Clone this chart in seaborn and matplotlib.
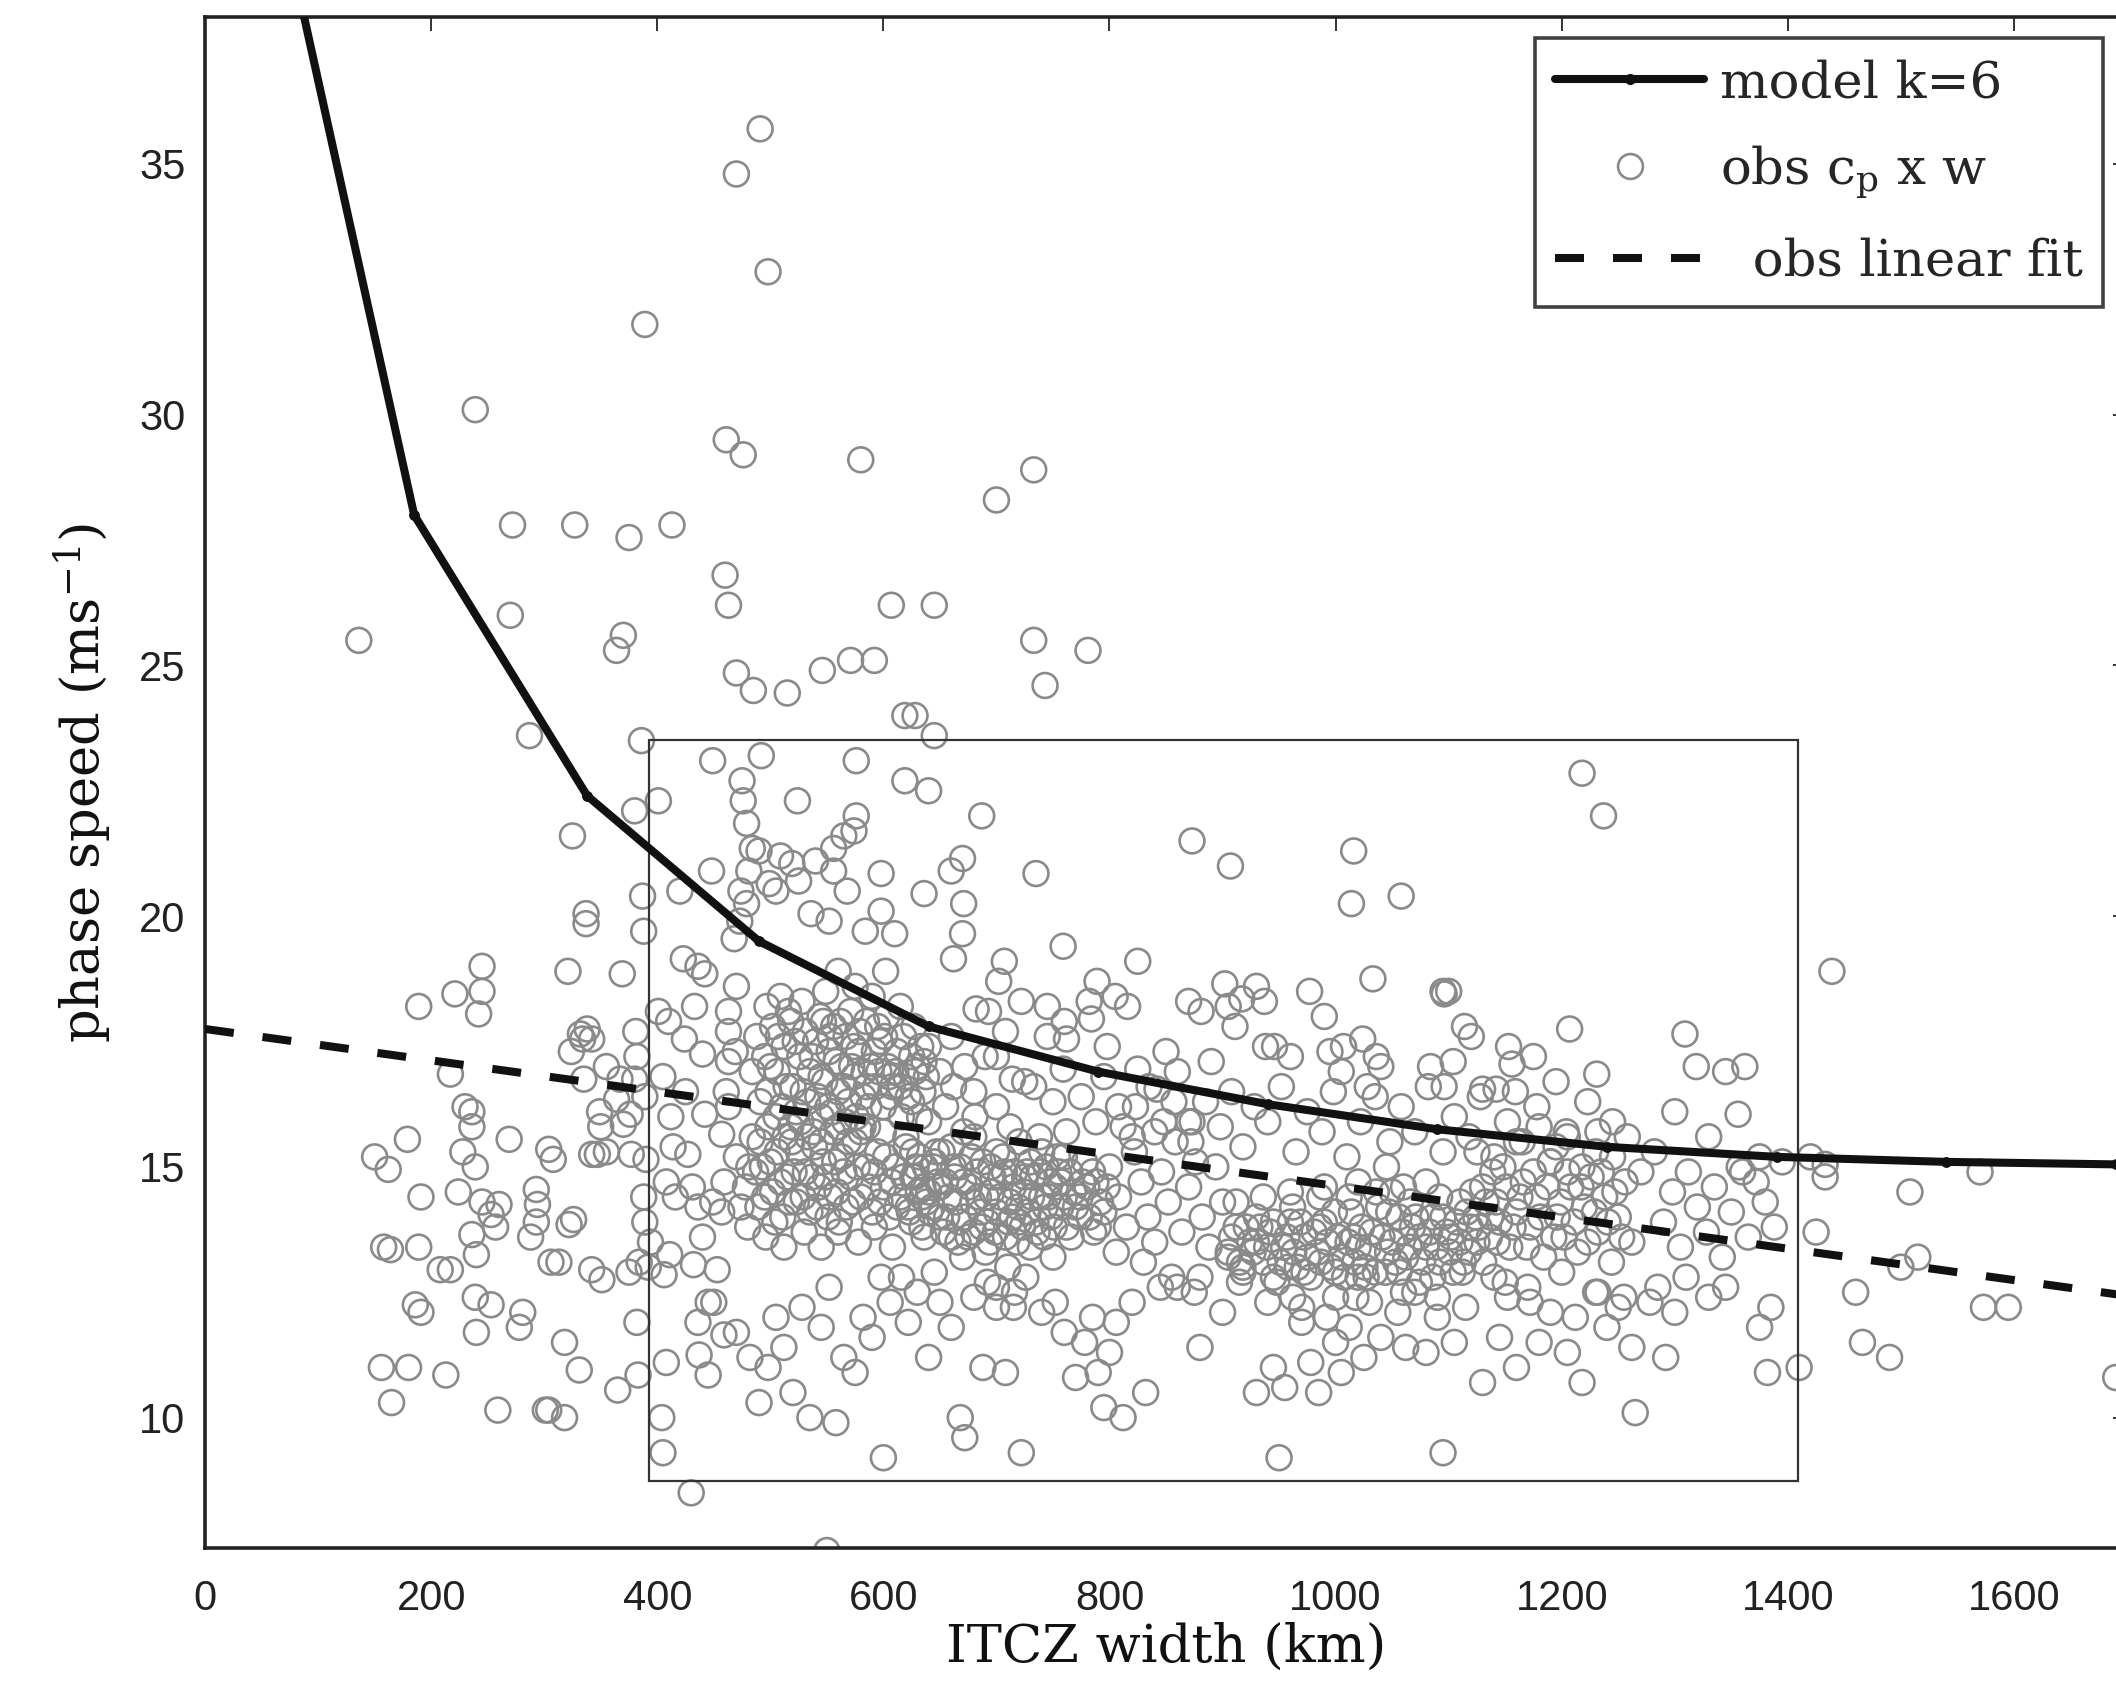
import numpy as np
import pandas as pd
import matplotlib
matplotlib.use("Agg")
import matplotlib.pyplot as plt
from matplotlib.patches import Rectangle
from matplotlib.lines import Line2D
import seaborn as sns

# model curve (k=6)
model_width = [35, 185, 338, 490, 640, 790, 940, 1090, 1240, 1390, 1540, 1690]
model_speed = [43.3, 28.0, 22.4, 19.5, 17.8, 16.9, 16.25, 15.75, 15.4, 15.2, 15.1, 15.05]

# linear fit to the observations
fit_width = [0, 1700]
fit_speed = [17.75, 12.43]

# box drawn around the bulk of the data
box_width = [393, 1409]
box_speed = [8.74, 23.52]

# observed phase speed vs ITCZ width, estimated point by point
obs_upper = [
    (491, 35.7), (470, 34.8), (498, 32.85), (389, 31.8), (239, 30.1), (461, 29.5), (476, 29.2),
    (580, 29.1), (733, 28.9), (700, 28.3), (272, 27.8), (327, 27.8), (375, 27.55), (413, 27.8),
    (460, 26.8), (463, 26.2), (607, 26.2), (645, 26.2), (270, 26.0), (136, 25.5), (370, 25.6),
    (364, 25.3), (733, 25.5), (781, 25.3), (571, 25.1), (592, 25.1), (546, 24.9), (470, 24.85),
    (485, 24.5), (515, 24.45), (743, 24.6), (287, 23.6), (386, 23.5), (449, 23.1), (492, 23.2),
    (524, 22.3), (576, 23.1), (619, 24.0), (628, 24.0), (645, 23.6), (401, 22.3), (380, 22.1),
    (325, 21.6), (475, 22.7), (476, 22.3), (640, 22.5), (687, 22.0), (619, 22.7), (576, 22.0),
    (565, 21.6), (574, 21.7), (873, 21.5), (907, 21.0), (1016, 21.3), (1014, 20.25), (1058, 20.4),
    (1218, 22.85), (1237, 22.0), (1439, 18.9),
]

obs_left = [
    (150, 15.2), (162, 14.95), (191, 14.4), (158, 13.4), (164, 13.35), (179, 15.55), (189, 18.2),
    (189, 13.4), (186, 12.25), (191, 12.1), (156, 11.0), (180, 11.0), (165, 10.3), (213, 10.85),
    (208, 12.95), (217, 12.95), (224, 14.5), (221, 18.45), (245, 19.0), (245, 18.5), (242, 18.05),
    (217, 16.85), (230, 16.2), (236, 16.1), (228, 15.3), (236, 15.8), (239, 15.0), (236, 13.65),
    (240, 13.25), (239, 12.4), (240, 11.7), (253, 12.25), (245, 14.3), (253, 14.05), (260, 14.25),
    (257, 13.8), (259, 10.15), (269, 15.55), (278, 11.8), (281, 12.1), (288, 13.6), (293, 14.55),
    (294, 14.25), (293, 13.9), (304, 15.35), (308, 15.15), (301, 10.15), (304, 10.15), (318, 10.0),
    (306, 13.1), (313, 13.1), (318, 11.5), (322, 13.85), (326, 13.95), (331, 10.95), (321, 18.9),
    (324, 17.3), (332, 17.65), (334, 17.55), (335, 16.75), (342, 15.25), (342, 17.55), (337, 20.05),
    (337, 19.85), (338, 17.75), (342, 12.95), (347, 15.25), (350, 15.8), (351, 12.75), (349, 16.1),
    (355, 17.0), (355, 15.3), (364, 16.35), (367, 16.75), (369, 18.85), (365, 10.55), (370, 15.85),
    (376, 16.05), (375, 12.9), (377, 15.25), (380, 16.75), (381, 17.7), (382, 17.2), (382, 11.9),
    (384, 13.1), (383, 10.85), (387, 20.4), (388, 19.7), (389, 16.4), (388, 14.4), (389, 13.9),
    (390, 15.15), (394, 13.5), (392, 13.0),
]

obs_box_edge = [
    (404, 10.0), (405, 9.3), (430, 8.5), (408, 11.1), (406, 12.85), (411, 13.25), (416, 14.4),
    (408, 14.7), (414, 15.4), (412, 16.0), (405, 16.8), (410, 17.9), (401, 18.1), (423, 19.15),
    (420, 20.5), (448, 20.9), (436, 19.0), (442, 18.85), (433, 18.2), (424, 17.55), (440, 17.25),
    (425, 16.5), (442, 16.05), (427, 15.25), (431, 14.6), (436, 14.2), (440, 13.6), (432, 13.05),
    (436, 11.9), (445, 12.3), (437, 11.25), (445, 10.85), (459, 11.65), (453, 12.95), (449, 14.3),
    (457, 14.1), (459, 14.7), (457, 15.65), (463, 16.2), (461, 16.5), (463, 17.1), (469, 17.3),
    (463, 17.7), (463, 18.1), (470, 18.6), (468, 19.55), (473, 19.9), (479, 20.25), (474, 20.5),
    (481, 20.9), (484, 21.35), (479, 21.85), (490, 21.3), (499, 20.65), (505, 20.5), (509, 21.2),
    (519, 21.05), (525, 20.7), (540, 21.1), (556, 20.9), (536, 20.05), (552, 19.9), (568, 20.5),
    (556, 21.35), (598, 20.85), (598, 20.1), (584, 19.7), (610, 19.65), (602, 18.9), (636, 20.45),
    (670, 21.15), (660, 20.9), (671, 20.25), (670, 19.65), (662, 19.15), (707, 19.1), (702, 18.7),
    (735, 20.85), (682, 18.15), (693, 18.1), (722, 18.3), (745, 18.2), (759, 19.4), (708, 17.7),
    (745, 17.6), (762, 17.55), (789, 18.7), (782, 18.3), (805, 18.4), (816, 18.2), (825, 19.1),
    (784, 17.95), (798, 17.4), (759, 16.95), (733, 16.6), (714, 16.75), (681, 16.0), (671, 15.7),
    (825, 16.95), (842, 16.55), (823, 16.2), (857, 16.3), (873, 15.9), (881, 18.1), (905, 18.2),
    (902, 18.65), (917, 18.35), (937, 18.3), (911, 17.8), (938, 17.4), (946, 17.4), (977, 18.5),
    (995, 17.3), (1007, 17.4), (1024, 17.55), (1028, 16.6), (1036, 17.2), (1033, 18.75),
    (1084, 17.0), (1096, 16.6), (1096, 18.45), (1114, 17.8), (1104, 17.1), (1130, 16.55),
    (1142, 16.55), (1153, 17.4), (1156, 17.05), (1159, 16.5), (1180, 15.8), (1207, 17.75),
    (1223, 16.3), (1231, 16.85), (1204, 15.7), (1309, 17.65), (1319, 17.0), (1356, 16.05),
    (1433, 15.05),
]

obs_cluster_a = [
    (488, 17.6), (495, 17.2), (502, 17.8), (506, 16.9), (512, 17.4), (518, 17.9), (520, 16.6),
    (526, 17.2), (531, 17.7), (535, 16.9), (540, 17.5), (544, 18.0), (548, 16.7), (552, 17.3),
    (556, 17.8), (560, 16.5), (563, 17.0), (567, 17.6), (571, 18.1), (574, 16.8), (578, 17.3),
    (582, 16.4), (585, 17.9), (589, 17.0), (593, 16.6), (597, 17.5), (600, 16.2), (604, 17.0),
    (608, 16.6), (612, 17.3), (616, 16.0), (620, 16.8), (625, 16.3), (630, 17.0), (635, 16.5),
    (640, 15.9), (498, 16.5), (510, 16.2), (523, 16.1), (533, 16.3), (545, 16.0), (555, 16.1),
    (566, 15.9), (576, 16.0), (586, 15.8), (497, 18.2), (509, 18.4), (528, 18.3), (549, 18.5),
    (560, 18.9), (575, 18.6), (590, 18.4), (603, 18.0), (615, 18.2), (627, 17.8), (640, 17.4),
    (650, 16.9), (655, 16.2), (662, 16.6), (660, 17.6), (672, 17.0), (680, 16.5), (690, 17.2),
    (484, 16.9), (491, 16.3), (500, 17.0), (507, 17.6), (514, 16.6), (516, 18.1), (522, 17.5),
    (529, 16.5), (537, 17.2), (542, 16.4), (547, 17.9), (551, 16.2), (558, 17.1), (562, 17.9),
    (569, 16.3), (572, 17.0), (579, 17.7), (583, 16.9), (587, 16.2), (592, 17.3), (596, 16.9),
    (601, 17.6), (606, 16.4), (611, 16.9), (618, 17.6), (622, 16.4), (628, 16.9), (633, 17.4),
    (638, 16.8), (505, 16.0), (518, 15.8), (538, 15.7), (560, 15.8), (580, 15.7), (600, 15.7),
    (620, 15.6), (632, 16.0), (545, 16.8), (565, 16.6), (585, 16.6), (605, 16.8), (625, 17.2),
    (553, 17.6), (574, 17.4), (595, 17.8), (615, 16.6), (636, 17.1),
]

obs_cluster_b = [
    (470, 15.2), (478, 14.6), (484, 15.6), (489, 14.2), (493, 15.0), (498, 15.8), (502, 14.5),
    (506, 15.3), (511, 14.0), (515, 14.8), (519, 15.5), (523, 14.3), (527, 15.9), (531, 14.9),
    (535, 14.1), (539, 15.4), (543, 14.6), (547, 15.1), (551, 14.0), (555, 15.7), (559, 14.5),
    (563, 15.2), (567, 14.2), (571, 14.8), (575, 15.5), (580, 14.4), (585, 15.0), (590, 14.1),
    (595, 15.3), (600, 14.6), (605, 14.0), (610, 15.0), (615, 14.4), (620, 15.4), (626, 14.8),
    (632, 15.2), (638, 14.3), (644, 15.0), (650, 14.6), (480, 13.8), (496, 13.6), (512, 13.4),
    (530, 13.7), (545, 13.4), (560, 13.7), (578, 13.5), (592, 13.8), (608, 13.4),
    (474, 14.2), (481, 15.0), (487, 14.9), (491, 15.5), (495, 14.4), (500, 15.1), (504, 13.9),
    (509, 14.7), (513, 15.6), (517, 14.3), (521, 14.9), (525, 15.3), (529, 14.4), (533, 15.6),
    (537, 14.8), (541, 14.2), (545, 15.5), (549, 14.8), (553, 14.4), (557, 15.1), (561, 13.9),
    (565, 14.9), (569, 15.5), (573, 14.3), (577, 15.0), (582, 15.8), (587, 14.6), (592, 14.9),
    (597, 14.3), (602, 15.2), (607, 14.7), (612, 14.2), (618, 14.8), (623, 14.1), (629, 15.0),
    (635, 14.6), (641, 14.1), (647, 15.3),
]

obs_cluster_c = [
    (622, 14.2), (628, 14.8), (634, 13.8), (640, 14.5), (645, 15.1), (650, 14.0), (655, 14.7),
    (660, 13.6), (664, 14.3), (668, 15.0), (672, 14.0), (676, 14.6), (680, 13.7), (684, 14.4),
    (688, 15.1), (692, 13.9), (696, 14.5), (700, 14.1), (704, 14.8), (708, 13.6), (712, 14.3),
    (716, 14.9), (720, 13.9), (724, 14.5), (728, 14.1), (732, 14.8), (736, 13.7), (740, 14.4),
    (744, 15.0), (748, 14.0), (752, 14.6), (757, 14.2), (762, 13.8), (768, 14.5), (774, 14.0),
    (780, 14.6), (786, 13.7), (792, 14.3), (660, 15.4), (680, 15.6), (700, 15.3), (720, 15.5),
    (740, 15.3), (760, 15.2), (670, 13.2), (690, 13.3), (710, 13.0), (730, 13.4), (750, 13.2),
    (645, 12.9), (700, 12.6), (715, 12.2),
    (625, 13.9), (631, 14.5), (637, 15.0), (643, 14.2), (648, 14.7), (653, 13.7), (658, 14.4),
    (662, 15.0), (667, 13.9), (671, 14.7), (675, 13.6), (679, 14.3), (683, 14.9), (687, 13.8),
    (691, 14.4), (695, 15.0), (699, 13.7), (703, 14.4), (707, 14.9), (711, 13.9), (715, 14.6),
    (719, 14.2), (723, 13.8), (727, 14.9), (731, 14.4), (735, 13.9), (739, 14.9), (743, 14.2),
    (747, 14.7), (751, 13.8), (755, 14.9), (760, 14.4), (765, 14.9), (770, 14.2), (776, 14.7),
    (782, 14.0), (788, 14.7), (795, 14.1),
    (626, 15.3), (636, 13.6), (652, 15.3), (666, 13.5), (678, 15.2), (694, 13.5), (706, 15.2),
    (718, 13.5), (730, 15.1), (742, 13.6), (754, 15.2), (766, 13.6), (778, 15.1), (790, 13.8),
    (798, 14.6), (656, 14.0), (686, 14.1), (714, 14.0), (746, 14.4), (774, 14.4), (634, 14.4),
    (663, 14.8), (697, 14.8), (725, 14.8), (757, 14.7), (785, 14.9),
    (800, 15.0), (808, 14.4), (815, 13.8), (822, 15.3), (828, 14.7), (834, 14.0), (840, 13.5),
    (846, 14.9), (852, 14.3), (858, 15.5), (864, 13.7), (870, 14.6), (876, 15.1), (882, 14.0),
    (888, 13.4), (806, 13.3), (830, 13.1), (855, 12.8), (875, 12.5), (812, 15.8), (840, 15.7),
    (870, 15.9), (894, 15.0), (900, 14.3), (905, 13.2),
]

obs_cluster_d = [
    (905, 13.3), (912, 13.8), (918, 12.9), (924, 13.5), (930, 14.0), (936, 13.1), (942, 13.7),
    (948, 12.7), (954, 13.4), (960, 13.9), (966, 13.0), (972, 13.6), (978, 12.8), (984, 13.3),
    (990, 13.9), (996, 13.0), (1002, 13.6), (1008, 12.8), (1014, 14.1), (1020, 13.4), (1026, 13.0),
    (1032, 13.7), (1038, 14.2), (1044, 12.9), (1050, 13.5), (1056, 14.0), (1062, 13.2), (1068, 13.8),
    (1074, 12.7), (1080, 13.4), (1086, 14.0), (1092, 13.1), (1098, 13.7), (1104, 12.9), (1110, 13.5),
    (1116, 14.1), (960, 14.5), (990, 14.6), (1020, 14.7), (1050, 14.5), (1080, 14.7), (940, 12.3),
    (970, 12.2), (1000, 12.4), (1030, 12.3), (1060, 12.5), (1090, 12.4), (1045, 15.0), (1060, 14.6),
    (908, 13.6), (915, 13.1), (921, 13.8), (927, 13.3), (933, 13.8), (939, 13.4), (945, 13.9),
    (951, 13.1), (957, 13.6), (963, 13.3), (969, 13.9), (975, 13.2), (981, 13.7), (987, 13.1),
    (993, 13.5), (999, 14.1), (1005, 13.2), (1011, 13.5), (1017, 13.1), (1023, 13.8), (1029, 13.4),
    (1035, 12.9), (1041, 13.6), (1047, 14.1), (1053, 13.1), (1059, 13.7), (1065, 13.4), (1071, 14.0),
    (1077, 13.1), (1083, 13.7), (1089, 13.4), (1095, 14.0), (1101, 13.3), (1107, 13.9), (1113, 13.1),
    (1119, 13.8), (1125, 13.5), (1131, 13.1), (1137, 14.0), (1143, 13.5),
    (912, 14.3), (936, 14.4), (962, 14.2), (986, 14.4), (1012, 14.4), (1036, 14.5), (1066, 14.3),
    (1092, 14.4), (1110, 14.3), (918, 13.0), (945, 12.8), (972, 12.9), (1000, 12.9), (1027, 12.8),
    (1056, 12.9), (1086, 12.8), (1112, 12.9), (930, 13.5), (958, 13.0), (986, 13.8), (1016, 13.6),
    (1046, 13.3), (1074, 13.6), (1102, 13.6),
]

obs_cluster_e = [
    (1118, 13.3), (1124, 14.0), (1130, 14.6), (1136, 13.6), (1142, 14.3), (1148, 15.0), (1154, 13.4),
    (1160, 14.1), (1166, 14.7), (1172, 13.8), (1178, 14.4), (1184, 13.2), (1190, 15.1), (1196, 14.0),
    (1202, 13.6), (1208, 14.6), (1214, 13.3), (1220, 14.2), (1226, 14.8), (1232, 13.7), (1238, 14.4),
    (1244, 13.1), (1250, 14.0), (1256, 14.7), (1262, 13.5), (1140, 12.8), (1170, 12.6), (1200, 12.9),
    (1230, 12.5), (1255, 12.4), (1125, 15.3), (1160, 15.5), (1195, 15.4), (1230, 15.3),
    (1121, 14.5), (1127, 13.8), (1133, 14.3), (1139, 14.9), (1145, 13.9), (1151, 14.6), (1157, 13.8),
    (1163, 14.4), (1169, 13.4), (1175, 14.9), (1181, 14.0), (1187, 14.6), (1193, 13.6), (1199, 14.3),
    (1205, 14.9), (1211, 13.9), (1217, 14.6), (1223, 13.5), (1229, 14.1), (1235, 14.9), (1241, 13.9),
    (1247, 14.5), (1253, 13.6),
]

obs_right = [
    (1290, 13.9), (1298, 14.5), (1305, 13.4), (1312, 14.9), (1320, 14.2), (1328, 13.7), (1335, 14.6),
    (1342, 13.2), (1350, 14.1), (1357, 15.0), (1365, 13.6), (1372, 14.7), (1380, 14.3), (1388, 13.8),
    (1395, 15.1), (1310, 12.8), (1330, 12.4), (1300, 12.1), (1345, 12.6), (1385, 12.2), (1375, 11.8),
    (1382, 10.9), (1410, 11.0), (1425, 13.7), (1420, 15.2), (1433, 14.8), (1460, 12.5), (1466, 11.5),
    (1490, 11.2), (1500, 13.0), (1508, 14.5), (1515, 13.2), (1573, 12.2), (1595, 12.2), (1570, 14.9),
    (1690, 10.8),
]

obs_lower = [
    (450, 12.3), (470, 11.7), (482, 11.2), (490, 10.3), (498, 11.0), (505, 12.0), (512, 11.4),
    (520, 10.5), (528, 12.2), (535, 10.0), (545, 11.8), (552, 12.6), (558, 9.9), (565, 11.2),
    (575, 10.9), (582, 12.0), (590, 11.6), (598, 12.8), (600, 9.2), (606, 12.3), (616, 12.8),
    (622, 11.9), (630, 12.5), (640, 11.2), (650, 12.3), (660, 11.8), (668, 10.0), (672, 9.6),
    (680, 12.4), (688, 11.0), (692, 12.7), (700, 12.2), (708, 10.9), (716, 12.5), (722, 9.3),
    (726, 12.8), (740, 12.1), (752, 12.3), (760, 11.7), (770, 10.8), (778, 11.5), (785, 12.0),
    (790, 10.9), (795, 10.2), (800, 11.3), (806, 11.9), (812, 10.0), (820, 12.3), (832, 10.5),
    (845, 12.6), (860, 12.6), (880, 11.4), (900, 12.1), (915, 12.7), (930, 10.5), (945, 11.0),
    (950, 9.2), (955, 10.6), (962, 12.4), (970, 11.9), (978, 11.1), (985, 10.5), (992, 12.0),
    (1000, 11.5), (1005, 10.9), (1012, 11.8), (1018, 12.4), (1025, 11.2), (1040, 11.6), (1055, 12.1),
    (1062, 11.4), (1070, 12.5), (1080, 11.3), (1090, 12.0), (1095, 9.3), (1105, 11.5), (1115, 12.2),
    (1130, 10.7), (1145, 11.6), (1152, 12.4), (1160, 11.0), (1172, 12.3), (1180, 11.5), (1190, 12.1),
    (1205, 11.3), (1212, 12.0), (1218, 10.7), (1232, 12.5), (1240, 11.8), (1250, 12.2), (1262, 11.4),
    (1265, 10.1), (1278, 12.3), (1285, 12.6), (1292, 11.2), (1150, 12.7), (1020, 12.8), (880, 12.8),
    (550, 7.35),
]

obs_mid = [
    (700, 16.2), (712, 15.8), (725, 16.7), (738, 15.6), (750, 16.3), (762, 15.7), (775, 16.4),
    (788, 15.9), (795, 16.8), (808, 16.2), (820, 15.6), (835, 16.6), (848, 15.9), (860, 16.9),
    (872, 15.5), (885, 16.3), (898, 15.8), (908, 16.5), (918, 15.4), (928, 16.2), (940, 15.9),
    (952, 16.6), (965, 15.3), (975, 16.1), (988, 15.7), (998, 16.5), (1010, 15.2), (1022, 15.9),
    (1035, 16.4), (1048, 15.5), (1058, 16.2), (1070, 15.7), (1082, 16.6), (1095, 15.3), (1105, 16.0),
    (1118, 15.6), (1128, 16.4), (1140, 15.2), (1152, 15.9), (1165, 15.5), (1178, 16.2), (1190, 15.1),
    (1205, 15.6), (1218, 15.0), (1232, 15.7), (1245, 15.2), (1258, 15.6), (1270, 14.9), (1282, 15.3),
    (1300, 16.1), (1330, 15.6), (1345, 16.9), (1362, 17.0), (1375, 15.2), (1360, 14.9), (700, 17.2),
    (760, 17.9), (850, 17.3), (890, 17.1), (960, 17.2), (1005, 16.9), (1040, 17.0), (1120, 17.6),
    (1175, 17.2), (1195, 16.7), (1245, 15.9), (1095, 18.5), (1100, 18.5), (990, 18.0), (930, 18.6),
    (870, 18.3),
]

obs = pd.DataFrame(
    obs_upper + obs_left + obs_box_edge + obs_cluster_a + obs_cluster_b + obs_cluster_c
    + obs_cluster_d + obs_cluster_e + obs_right + obs_lower + obs_mid,
    columns=["width", "speed"],
)

sns.set_style("white")
plt.rcParams["mathtext.fontset"] = "dejavuserif"
serif = "DejaVu Serif"
sans = "Liberation Sans"

fig = plt.figure(figsize=(21.16, 16.85), dpi=100)
ax = fig.add_axes([0.0969, 0.0813, 0.9083, 0.9086])

grey = "#8a8a8a"
sns.scatterplot(data=obs, x="width", y="speed", ax=ax, marker="o", s=320,
                facecolor="none", edgecolor=grey, linewidth=1.9, zorder=2, legend=False)

dash = (0, (3.6, 3.6))
sns.lineplot(x=model_width, y=model_speed, ax=ax, sort=False, estimator=None,
             color="#111111", linewidth=5.8, marker="o", markersize=7,
             markeredgecolor="#111111", zorder=4)
sns.lineplot(x=fit_width, y=fit_speed, ax=ax, sort=False, estimator=None,
             color="#111111", linewidth=5.8, linestyle=dash, zorder=4)

ax.add_patch(Rectangle((box_width[0], box_speed[0]), box_width[1] - box_width[0],
                       box_speed[1] - box_speed[0], fill=False, edgecolor="#333333",
                       linewidth=1.6, zorder=3))

ax.set_xlim(0, 1700)
ax.set_ylim(7.4, 37.93)
ax.set_xticks([0, 200, 400, 600, 800, 1000, 1200, 1400, 1600])
ax.set_yticks([10, 15, 20, 25, 30, 35])
ax.tick_params(direction="in", top=True, right=True, length=10, width=1.3,
               labelsize=30, color="#222222")
ax.tick_params(axis="x", pad=22)
ax.tick_params(axis="y", pad=14)
for lab in ax.get_xticklabels() + ax.get_yticklabels():
    lab.set_fontfamily(sans)
    lab.set_color("#222222")
for sp in ax.spines.values():
    sp.set_linewidth(2.6)
    sp.set_color("#222222")

ax.set_xlabel("ITCZ width (km)", family=serif, fontsize=38, labelpad=2, color="#111111")
ax.set_ylabel(r"phase speed (ms$^{-1}$)", family=serif, fontsize=38, labelpad=18, color="#111111")

handles = [
    Line2D([], [], color="#111111", linewidth=5.8, marker="o", markersize=7),
    Line2D([], [], linestyle="none", marker="o", markersize=17.9, markerfacecolor="none",
           markeredgecolor=grey, markeredgewidth=1.9),
    Line2D([], [], color="#111111", linewidth=5.8, linestyle=dash),
]
labels = ["model k=6", r"obs c$_{\rm p}$ x w", "  obs linear fit"]
leg = ax.legend(handles, labels, loc="upper right", bbox_to_anchor=(0.9939, 0.9774),
                bbox_transform=fig.transFigure, borderaxespad=0, fancybox=False,
                frameon=True, edgecolor="#111111", handlelength=2.9, handletextpad=0.3,
                borderpad=0.4, labelspacing=0.7, prop={"family": serif, "size": 37})
leg.get_frame().set_linewidth(2.6)

fig.savefig("out.png", dpi=100)
